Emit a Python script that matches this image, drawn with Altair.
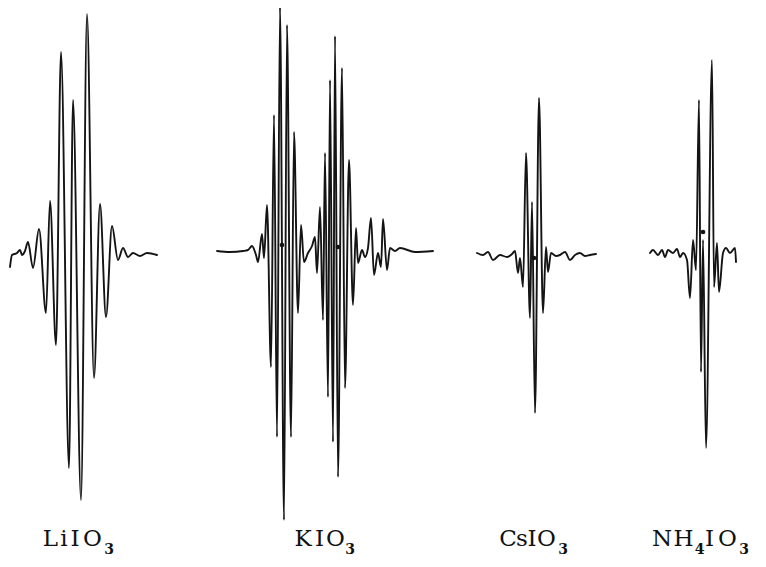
import altair as alt
import pandas as pd

# ---- trace data (x, y in picture pixel units, y downward) ----
li_x = [10, 12, 17, 20, 22, 25, 28, 33, 39, 46, 50, 56, 61, 69, 73, 81, 87, 94, 100, 106, 112, 118, 123, 128, 133, 140, 147, 157]
li_y = [267, 255, 253, 250, 255, 251, 242, 268, 229, 313, 201, 345, 52, 468, 100, 500, 14, 378, 204, 317, 226, 260, 248, 257, 253, 256, 253, 255]

k_x = [217, 230, 243, 248, 252, 256, 258, 262, 264, 267, 271, 274, 277, 280, 284, 287, 291, 294, 298, 301, 304, 308, 312,
       315, 317, 320, 323, 325, 328, 330, 333, 335, 338, 342, 345, 349, 353, 356, 358, 362, 365, 368, 371, 374, 378, 381,
       383, 387, 390, 395, 400, 415, 433]
k_y = [251, 252, 251, 250, 246, 255, 262, 234, 258, 205, 367, 115, 437, 7, 520, 25, 437, 132, 313, 225, 262, 253, 246,
       237, 273, 207, 320, 153, 397, 80, 442, 36, 477, 68, 388, 160, 305, 228, 263, 250, 257, 248, 218, 275, 253, 267,
       219, 270, 248, 251, 248, 252, 251]

cs_x = [477, 483, 488, 493, 500, 507, 512, 515, 518, 520, 523, 526, 530, 532, 535, 539, 543, 546, 548, 551, 556, 560,
        565, 570, 575, 580, 585, 590, 596]
cs_y = [253, 255, 252, 260, 255, 257, 254, 251, 273, 258, 287, 153, 318, 202, 413, 98, 313, 247, 272, 253, 256, 255,
        252, 260, 255, 253, 256, 255, 254]

nh_x = [650, 653, 658, 662, 665, 668, 673, 677, 680, 683, 687, 690, 693, 696, 699, 701, 703, 706, 712, 714, 717, 719,
        723, 726, 730, 735, 736]
nh_y = [253, 250, 255, 250, 257, 250, 253, 249, 257, 253, 260, 298, 240, 270, 100, 372, 240, 448, 60, 287, 243, 292,
        253, 248, 253, 248, 262]

series_names = ["LiIO3", "KIO3", "CsIO3", "NH4IO3"]

# small ink dots on the traces
dot_x = [282, 338, 534, 703]
dot_y = [245, 247, 258, 232]

# label glyphs (main letters and subscripts)
main_text = ["L", "i", "I", "O", "K", "I", "O", "C", "s", "I", "O", "N", "H", "I", "O"]
main_x = [50.5, 64, 75, 92.5, 303, 319.5, 335.5, 508, 522, 532, 546.5, 662, 683.5, 709.5, 727.5]
main_y = [546] * len(main_text)
sub_text = ["3", "3", "3", "4", "3"]
sub_x = [109, 350, 563, 699.5, 744]
sub_y = [554] * len(sub_text)

# ---- tables ----
rows = []
for name, xs, ys in zip(series_names, [li_x, k_x, cs_x, nh_x], [li_y, k_y, cs_y, nh_y]):
    for xv, yv in zip(xs, ys):
        rows.append({"series": name, "x": xv, "y": yv})
traces = pd.DataFrame(rows)
dots = pd.DataFrame({"x": dot_x, "y": dot_y})
mains = pd.DataFrame({"x": main_x, "y": main_y, "t": main_text})
subs = pd.DataFrame({"x": sub_x, "y": sub_y, "t": sub_text})

W, H = 750, 551
xs = alt.Scale(domain=[8, 8 + W])
ys = alt.Scale(domain=[8, 8 + H], reverse=True)
X = lambda: alt.X("x:Q", scale=xs, axis=None)
Y = lambda: alt.Y("y:Q", scale=ys, axis=None)

lines = alt.Chart(traces).mark_line(
    color="#141414", strokeWidth=1.9, interpolate="monotone", strokeJoin="round", strokeCap="round"
).encode(x=X(), y=Y(), detail="series:N", order="x:Q")

pts = alt.Chart(dots).mark_circle(color="#141414", size=22, opacity=1).encode(x=X(), y=Y())

main_lbl = alt.Chart(mains).mark_text(
    font="DejaVu Serif", fontSize=23, align="center", baseline="alphabetic", color="#111111"
).encode(x=X(), y=Y(), text="t:N")

sub_lbl = alt.Chart(subs).mark_text(
    font="DejaVu Serif", fontSize=14, fontWeight="bold", align="center", baseline="alphabetic", color="#111111"
).encode(x=X(), y=Y(), text="t:N")

chart = alt.layer(lines, pts, main_lbl, sub_lbl).properties(
    width=W, height=H, autosize=alt.AutoSizeParams(type="none"), padding=0, background="white"
).configure_view(stroke=None)

chart.save("out.html", embed_options={"renderer": "svg", "actions": False})
